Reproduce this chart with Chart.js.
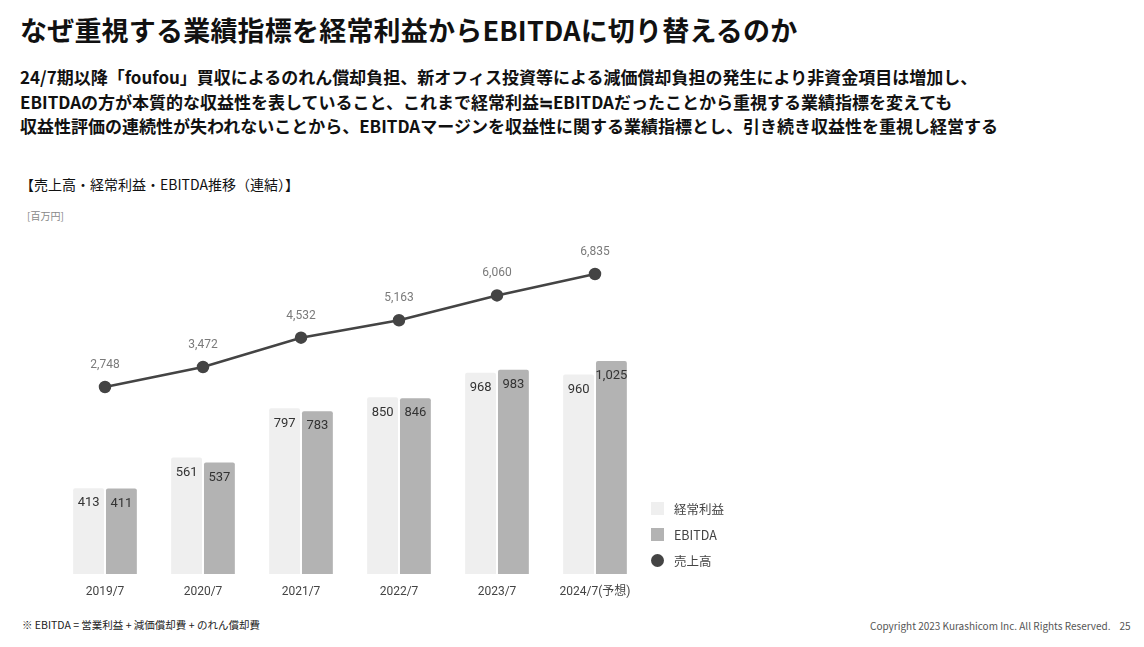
<!DOCTYPE html>
<html><head><meta charset="utf-8">
<script src="https://cdn.jsdelivr.net/npm/chart.js@4"></script>
<style>
html,body{margin:0;padding:0;background:#fff;width:1144px;height:647px;overflow:hidden;font-family:"Noto Sans CJK JP","Noto Sans",sans-serif;color:#111;}
.abs{position:absolute;white-space:nowrap;}
#title{left:20px;top:10px;font-size:27px;font-weight:700;letter-spacing:0.2px;}
.sub{left:20px;font-size:17px;font-weight:700;letter-spacing:0px;}
#sec{left:20px;top:174px;font-size:14px;color:#111;}
#unit{left:27px;top:208px;font-size:10px;color:#888;}
#foot{left:22px;top:617px;font-size:10.5px;color:#222;}
#copy{left:870px;top:618px;font-size:10px;color:#555;}
#wrap{position:absolute;left:0;top:200px;width:660px;height:410px;}
.lg{position:absolute;left:651px;font-size:12.5px;color:#444;display:flex;align-items:center;}
.lg i{display:inline-block;width:13px;height:13px;margin-right:10px;}
</style></head><body>
<div id="title" class="abs">なぜ重視する業績指標を経常利益からEBITDAに切り替えるのか</div>
<div class="abs sub" style="top:64px">24/7期以降「foufou」買収によるのれん償却負担、新オフィス投資等による減価償却負担の発生により非資金項目は増加し、</div>
<div class="abs sub" style="top:89px">EBITDAの方が本質的な収益性を表していること、これまで経常利益≒EBITDAだったことから重視する業績指標を変えても</div>
<div class="abs sub" style="top:113px">収益性評価の連続性が失われないことから、EBITDAマージンを収益性に関する業績指標とし、引き続き収益性を重視し経営する</div>
<div id="sec" class="abs">【売上高・経常利益・EBITDA推移（連結）】</div>
<div id="unit" class="abs">[百万円]</div>
<div id="wrap"><canvas id="c"></canvas></div>
<div class="lg" style="top:499px"><i style="background:#efefef"></i>経常利益</div>
<div class="lg" style="top:525px"><i style="background:#b3b3b3"></i>EBITDA</div>
<div class="lg" style="top:551px"><i style="background:#444;border-radius:50%"></i>売上高</div>
<div id="foot" class="abs">※ EBITDA = 営業利益 + 減価償却費 + のれん償却費</div>
<div id="copy" class="abs">Copyright 2023 Kurashicom Inc. All Rights Reserved.&nbsp;&nbsp;&nbsp; 25</div>
<script>
const categories = ['2019/7','2020/7','2021/7','2022/7','2023/7','2024/7(予想)'];
const ordinaryProfit = [413, 561, 797, 850, 968, 960];
const ebitda = [411, 537, 783, 846, 983, 1025];
const sales = [2748, 3472, 4532, 5163, 6060, 6835];

const labelPlugin = {
  id: 'valueLabels',
  afterDatasetsDraw(chart) {
    const ctx = chart.ctx;
    ctx.save();
    ctx.textAlign = 'center';
    ctx.textBaseline = 'middle';
    chart.data.datasets.forEach((ds, i) => {
      const meta = chart.getDatasetMeta(i);
      meta.data.forEach((el, j) => {
        const txt = ds.data[j].toLocaleString('en-US');
        if (meta.type === 'bar') {
          ctx.font = '13px Roboto, "Noto Sans", sans-serif';
          ctx.fillStyle = '#333';
          ctx.fillText(txt, el.x, el.y + 15);
        } else {
          ctx.font = '12px Roboto, "Noto Sans", sans-serif';
          ctx.fillStyle = '#7a7a7a';
          ctx.fillText(txt, el.x, el.y - 22);
        }
      });
    });
    ctx.restore();
  }
};

new Chart(document.getElementById('c'), {
  data: {
    labels: categories,
    datasets: [
      { type: 'line', label: '売上高', data: sales, yAxisID: 'yL', order: 0,
        borderColor: '#444', borderWidth: 2.5, pointRadius: 5, pointBackgroundColor: '#444',
        pointBorderColor: '#444', tension: 0 },
      { type: 'bar', label: '経常利益', data: ordinaryProfit, yAxisID: 'yB', order: 1,
        backgroundColor: '#efefef', borderRadius: 2, barPercentage: 0.94, categoryPercentage: 0.67 },
      { type: 'bar', label: 'EBITDA', data: ebitda, yAxisID: 'yB', order: 1,
        backgroundColor: '#b3b3b3', borderRadius: 2, barPercentage: 0.94, categoryPercentage: 0.67 }
    ]
  },
  options: {
    responsive: true, maintainAspectRatio: false, animation: false,
    layout: { padding: { left: 56, right: 16, top: 30, bottom: 6 } },
    plugins: { legend: { display: false }, tooltip: { enabled: false } },
    scales: {
      x: { grid: { display: false }, border: { display: false },
           ticks: { color: '#444', font: { size: 12, family: 'Roboto, "Noto Sans CJK JP", sans-serif' }, padding: 3, maxRotation: 0 },
           afterFit: s => { s.height = 30; } },
      yB: { display: false, min: 0, max: 1655 },
      yL: { display: false, min: -4014, max: 8427 }
    }
  },
  plugins: [labelPlugin]
});
</script>
</body></html>
